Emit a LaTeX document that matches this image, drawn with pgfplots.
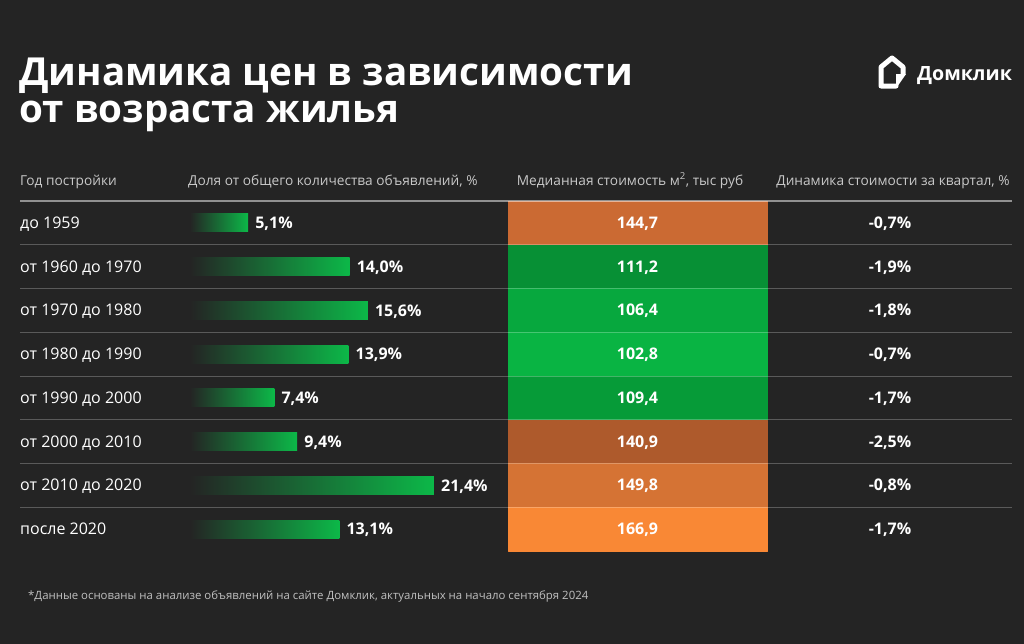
\documentclass[border=0pt]{standalone}
\usepackage{fontspec}
\setmainfont{Open Sans}
\usepackage{pgfplots}
\usepgfplotslibrary{patchplots}
\pgfplotsset{compat=1.18}
\definecolor{bg}{HTML}{242424}
\definecolor{grn}{HTML}{0CB848}
\definecolor{hdr}{HTML}{C8C8C8}
\definecolor{fnt}{HTML}{C0C0C0}
\pgfplotsset{colormap={heat}{rgb255(102.8pt)=(9,180,67) rgb255(106.4pt)=(7,168,62) rgb255(109.4pt)=(6,155,56) rgb255(111.2pt)=(7,144,53) rgb255(140.9pt)=(174,90,44) rgb255(144.7pt)=(203,106,51) rgb255(149.8pt)=(213,115,52) rgb255(166.9pt)=(249,136,53)}}
\newcommand{\rowfont}{\fontsize{16}{19}\selectfont}
\newcommand{\valfont}{\fontsize{16}{19}\selectfont\bfseries}
\newcommand{\hdrfont}{\fontsize{13.7}{16}\selectfont}
\tikzset{rowlab/.style={anchor=base west, text=white, inner sep=0pt, font=\rowfont},
  heatlab/.style={anchor=base, text=white, inner sep=0pt, font=\valfont},
  seprow/.style={white, opacity=0.25, line width=1.4pt}}
\begin{document}
\begin{tikzpicture}
\fill[bg] (0,0) rectangle (1024pt,-644pt);
\begin{axis}[name=main, anchor=north west, at={(0,0)}, scale only axis,
  width=1024pt, height=644pt, xmin=0, xmax=1024, ymin=0, ymax=644,
  y dir=reverse, hide axis, clip=false,
  colormap name=heat, point meta min=102.8, point meta max=166.9]
% heat column
\addplot[patch, patch type=rectangle, shader=flat, point meta=explicit]
 table[x=x, y=y, meta=v] {
x y v
508 201 144.7
767 201 144.7
767 244.75 144.7
508 244.75 144.7
508 244.75 111.2
767 244.75 111.2
767 288.5 111.2
508 288.5 111.2
508 288.5 106.4
767 288.5 106.4
767 332.25 106.4
508 332.25 106.4
508 332.25 102.8
767 332.25 102.8
767 376 102.8
508 376 102.8
508 376 109.4
767 376 109.4
767 419.75 109.4
508 419.75 109.4
508 419.75 140.9
767 419.75 140.9
767 463.5 140.9
508 463.5 140.9
508 463.5 149.8
767 463.5 149.8
767 507.25 149.8
508 507.25 149.8
508 507.25 166.9
767 507.25 166.9
767 551 166.9
508 551 166.9
};
% separators
\draw[white, opacity=0.5, line width=1.6pt] (axis cs:20,201) -- (axis cs:1012,201);
\draw[seprow] (axis cs:20,244.75) -- (axis cs:1012,244.75);
\draw[seprow] (axis cs:20,288.5) -- (axis cs:1012,288.5);
\draw[seprow] (axis cs:20,332.25) -- (axis cs:1012,332.25);
\draw[seprow] (axis cs:20,376.25) -- (axis cs:1012,376.25);
\draw[seprow] (axis cs:20,419.75) -- (axis cs:1012,419.75);
\draw[seprow] (axis cs:20,463.5) -- (axis cs:1012,463.5);
\draw[seprow] (axis cs:20,507.25) -- (axis cs:1012,507.25);
% title
\node[anchor=base west, text=white, inner sep=0pt, font=\fontsize{38.6}{44}\selectfont\bfseries] at (axis cs:19,85) {Динамика цен в зависимости};
\node[anchor=base west, text=white, inner sep=0pt, font=\fontsize{38.6}{44}\selectfont\bfseries] at (axis cs:19,122) {от возраста жилья};
% logo
\draw[white, line width=5pt, line join=round, line cap=round] (axis cs:896,86) -- (axis cs:881,86) -- (axis cs:881,67) -- (axis cs:892,58) -- (axis cs:903,67) -- (axis cs:903,74);
\fill[white] (axis cs:906,74) -- (axis cs:896,74) -- (axis cs:896,88.5) -- cycle;
\node[anchor=base west, text=white, inner sep=0pt, font=\fontsize{19.6}{22}\selectfont\bfseries] at (axis cs:917,80) {Домклик};
% headers
\node[anchor=base west, text=hdr, inner sep=0pt, font=\hdrfont] at (axis cs:20,185) {Год постройки};
\node[anchor=base west, text=hdr, inner sep=0pt, font=\hdrfont] at (axis cs:188,185) {Доля от общего количества объявлений, \%};
\node[anchor=base, text=hdr, inner sep=0pt, font=\hdrfont] at (axis cs:630,185) {Медианная стоимость м\textsuperscript{2}, тыс руб};
\node[anchor=base, text=hdr, inner sep=0pt, font=\hdrfont] at (axis cs:893,185) {Динамика стоимости за квартал, \%};
% row labels
\node[rowlab] at (axis cs:20,228.4) {до 1959};
\node[rowlab] at (axis cs:20,272.1) {от 1960 до 1970};
\node[rowlab] at (axis cs:20,315.9) {от 1970 до 1980};
\node[rowlab] at (axis cs:20,359.6) {от 1980 до 1990};
\node[rowlab] at (axis cs:20,403.4) {от 1990 до 2000};
\node[rowlab] at (axis cs:20,447.1) {от 2000 до 2010};
\node[rowlab] at (axis cs:20,490.9) {от 2010 до 2020};
\node[rowlab] at (axis cs:20,534.6) {после 2020};
% heat values
\node[heatlab] at (axis cs:637.5,228.4) {144,7};
\node[heatlab] at (axis cs:637.5,272.1) {111,2};
\node[heatlab] at (axis cs:637.5,315.9) {106,4};
\node[heatlab] at (axis cs:637.5,359.6) {102,8};
\node[heatlab] at (axis cs:637.5,403.4) {109,4};
\node[heatlab] at (axis cs:637.5,447.1) {140,9};
\node[heatlab] at (axis cs:637.5,490.9) {149,8};
\node[heatlab] at (axis cs:637.5,534.6) {166,9};
% right column
\node[heatlab] at (axis cs:890,228.4) {-0,7\%};
\node[heatlab] at (axis cs:890,272.1) {-1,9\%};
\node[heatlab] at (axis cs:890,315.9) {-1,8\%};
\node[heatlab] at (axis cs:890,359.6) {-0,7\%};
\node[heatlab] at (axis cs:890,403.4) {-1,7\%};
\node[heatlab] at (axis cs:890,447.1) {-2,5\%};
\node[heatlab] at (axis cs:890,490.9) {-0,8\%};
\node[heatlab] at (axis cs:890,534.6) {-1,7\%};
% footnote
\node[anchor=base west, text=fnt, inner sep=0pt, font=\fontsize{11.4}{13}\selectfont] at (axis cs:28,599) {*Данные основаны на анализе объявлений на сайте Домклик, актуальных на начало сентября 2024};
\end{axis}
\begin{axis}[anchor=north west, at={(190pt,-201pt)}, scale only axis,
  width=285pt, height=350pt, xmin=0, xmax=25, ymin=0.5, ymax=8.5,
  y dir=reverse, hide axis, clip=false]
\addplot[xbar, bar shift=0pt, bar width=18pt, draw=none, left color=bg, right color=grn] coordinates {(5.1,1)};
\addplot[xbar, bar shift=0pt, bar width=18pt, draw=none, left color=bg, right color=grn] coordinates {(14.0,2)};
\addplot[xbar, bar shift=0pt, bar width=18pt, draw=none, left color=bg, right color=grn] coordinates {(15.6,3)};
\addplot[xbar, bar shift=0pt, bar width=18pt, draw=none, left color=bg, right color=grn] coordinates {(13.9,4)};
\addplot[xbar, bar shift=0pt, bar width=18pt, draw=none, left color=bg, right color=grn] coordinates {(7.4,5)};
\addplot[xbar, bar shift=0pt, bar width=18pt, draw=none, left color=bg, right color=grn] coordinates {(9.4,6)};
\addplot[xbar, bar shift=0pt, bar width=18pt, draw=none, left color=bg, right color=grn] coordinates {(21.4,7)};
\addplot[xbar, bar shift=0pt, bar width=18pt, draw=none, left color=bg, right color=grn] coordinates {(13.1,8)};
\node[heatlab, anchor=west, xshift=7pt, yshift=-1pt] at (axis cs:5.1,1) {5,1\%};
\node[heatlab, anchor=west, xshift=7pt, yshift=-1pt] at (axis cs:14.0,2) {14,0\%};
\node[heatlab, anchor=west, xshift=7pt, yshift=-1pt] at (axis cs:15.6,3) {15,6\%};
\node[heatlab, anchor=west, xshift=7pt, yshift=-1pt] at (axis cs:13.9,4) {13,9\%};
\node[heatlab, anchor=west, xshift=7pt, yshift=-1pt] at (axis cs:7.4,5) {7,4\%};
\node[heatlab, anchor=west, xshift=7pt, yshift=-1pt] at (axis cs:9.4,6) {9,4\%};
\node[heatlab, anchor=west, xshift=7pt, yshift=-1pt] at (axis cs:21.4,7) {21,4\%};
\node[heatlab, anchor=west, xshift=7pt, yshift=-1pt] at (axis cs:13.1,8) {13,1\%};
\end{axis}
\end{tikzpicture}
\end{document}
